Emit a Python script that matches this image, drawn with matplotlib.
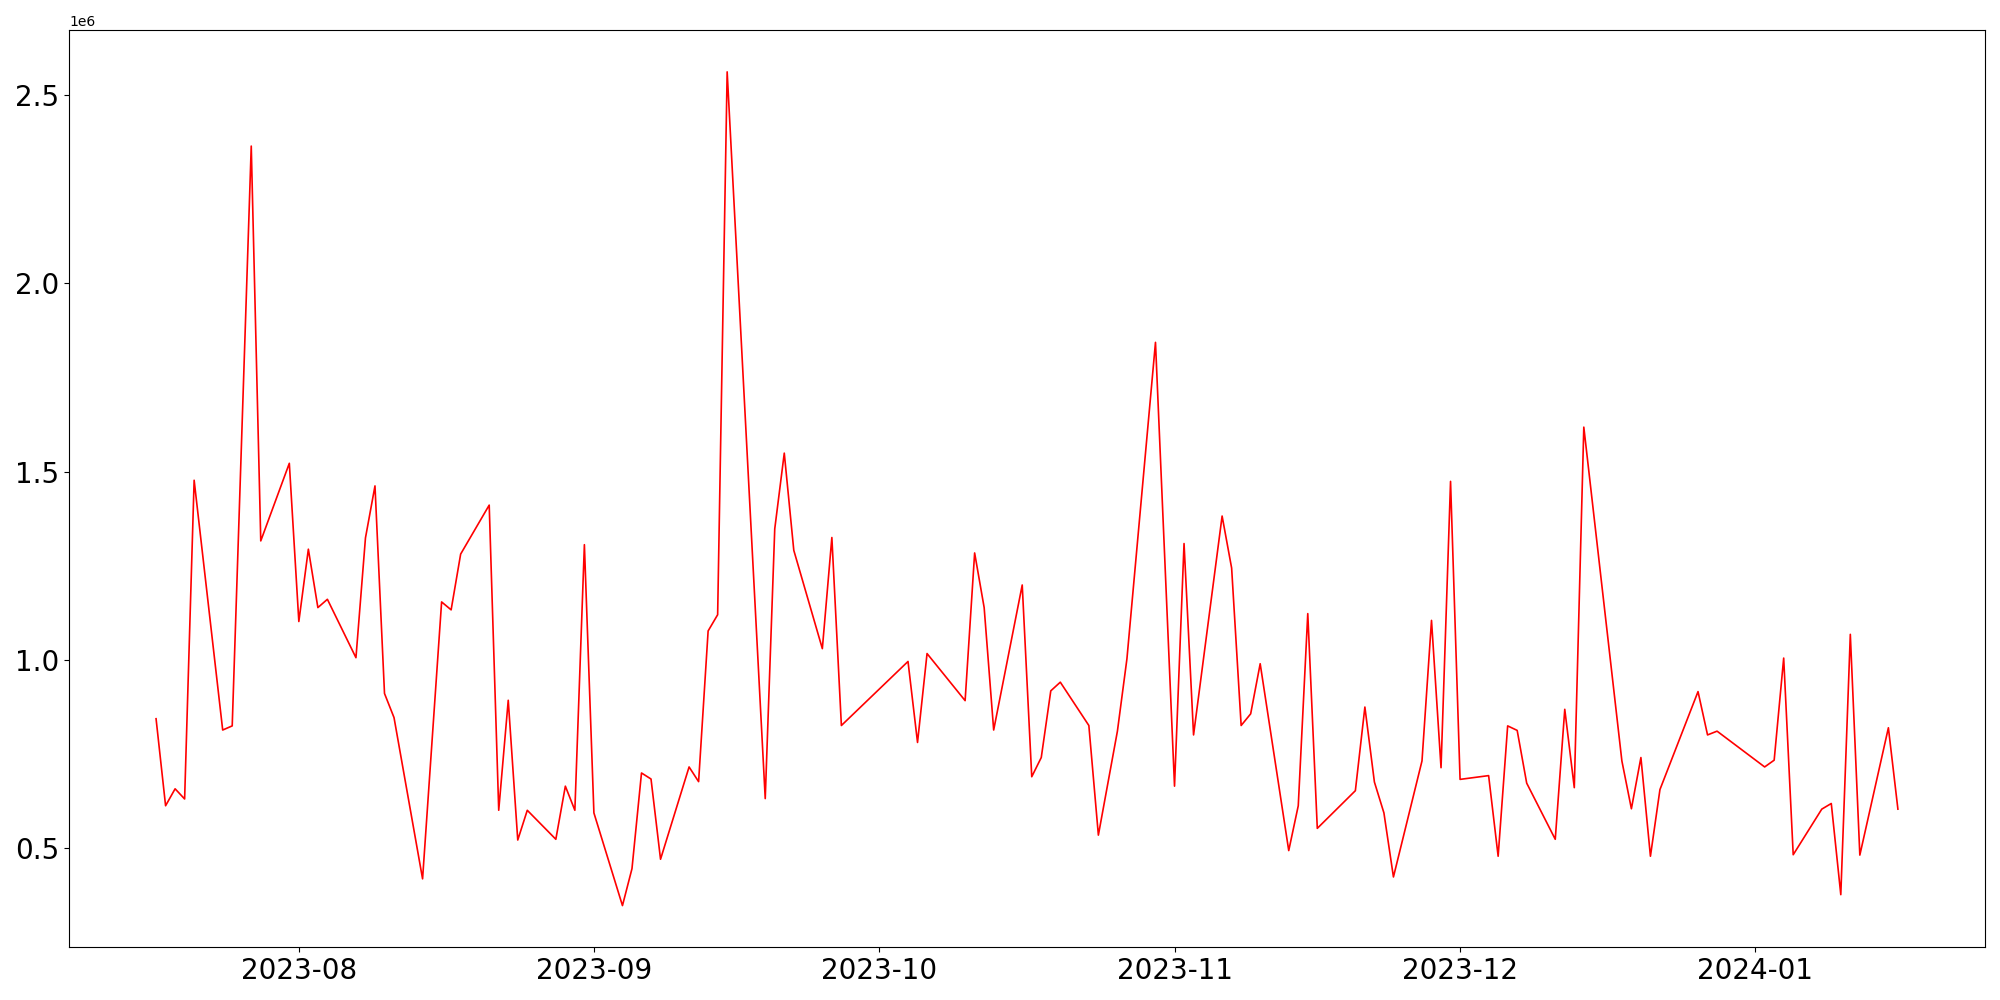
import numpy as np
import pandas as pd
from matplotlib import pyplot as plt

# trading days (weekdays, some missing)
dates = ['2023-07-17', '2023-07-18', '2023-07-19', '2023-07-20', '2023-07-21',
         '2023-07-24', '2023-07-25', '2023-07-27', '2023-07-28', '2023-07-31',
         '2023-08-01', '2023-08-02', '2023-08-03', '2023-08-04', '2023-08-07',
         '2023-08-08', '2023-08-09', '2023-08-10', '2023-08-11', '2023-08-14',
         '2023-08-16', '2023-08-17', '2023-08-18', '2023-08-21', '2023-08-22',
         '2023-08-23', '2023-08-24', '2023-08-25', '2023-08-28', '2023-08-29',
         '2023-08-30', '2023-08-31', '2023-09-01', '2023-09-04', '2023-09-05',
         '2023-09-06', '2023-09-07', '2023-09-08', '2023-09-11', '2023-09-12',
         '2023-09-13', '2023-09-14', '2023-09-15', '2023-09-19', '2023-09-20',
         '2023-09-21', '2023-09-22', '2023-09-25', '2023-09-26', '2023-09-27',
         '2023-10-04', '2023-10-05', '2023-10-06', '2023-10-10', '2023-10-11',
         '2023-10-12', '2023-10-13', '2023-10-16', '2023-10-17', '2023-10-18',
         '2023-10-19', '2023-10-20', '2023-10-23', '2023-10-24', '2023-10-26',
         '2023-10-27', '2023-10-30', '2023-11-01', '2023-11-02', '2023-11-03',
         '2023-11-06', '2023-11-07', '2023-11-08', '2023-11-09', '2023-11-10',
         '2023-11-13', '2023-11-14', '2023-11-15', '2023-11-16', '2023-11-20',
         '2023-11-21', '2023-11-22', '2023-11-23', '2023-11-24', '2023-11-27',
         '2023-11-28', '2023-11-29', '2023-11-30', '2023-12-01', '2023-12-04',
         '2023-12-05', '2023-12-06', '2023-12-07', '2023-12-08', '2023-12-11',
         '2023-12-12', '2023-12-13', '2023-12-14', '2023-12-18', '2023-12-19',
         '2023-12-20', '2023-12-21', '2023-12-22', '2023-12-26', '2023-12-27',
         '2023-12-28', '2024-01-02', '2024-01-03', '2024-01-04', '2024-01-05',
         '2024-01-08', '2024-01-09', '2024-01-10', '2024-01-11', '2024-01-12',
         '2024-01-15', '2024-01-16']

volume = [844000, 613000, 658000, 631000, 1477000,
          814000, 825000, 2364000, 1316000, 1522000,
          1102000, 1294000, 1139000, 1161000, 1006000,
          1324000, 1462000, 911000, 847000, 419000,
          1154000, 1133000, 1281000, 1411000, 601000,
          893000, 522000, 601000, 524000, 665000,
          601000, 1306000, 594000, 348000, 446000,
          700000, 684000, 471000, 716000, 677000,
          1077000, 1120000, 2561000, 632000, 1348000,
          1549000, 1291000, 1030000, 1325000, 826000,
          996000, 781000, 1017000, 892000, 1284000,
          1139000, 814000, 1199000, 690000, 741000,
          918000, 941000, 826000, 535000, 811000,
          1003000, 1843000, 665000, 1309000, 801000,
          1382000, 1244000, 826000, 857000, 990000,
          494000, 613000, 1123000, 553000, 653000,
          875000, 676000, 594000, 424000, 732000,
          1105000, 714000, 1474000, 683000, 693000,
          479000, 825000, 813000, 673000, 524000,
          869000, 661000, 1618000, 732000, 605000,
          741000, 479000, 656000, 916000, 801000,
          811000, 716000, 734000, 1005000, 483000,
          604000, 619000, 377000, 1068000, 482000,
          820000, 604000]

x = pd.to_datetime(dates)
y = np.array(volume, dtype=float)

plt.figure(figsize=(20, 10), dpi=100)
plt.plot(x, y, color='red', linewidth=1.2)
plt.xticks(fontsize=20)
plt.yticks(fontsize=20)
plt.tight_layout()
plt.savefig('out.png')
